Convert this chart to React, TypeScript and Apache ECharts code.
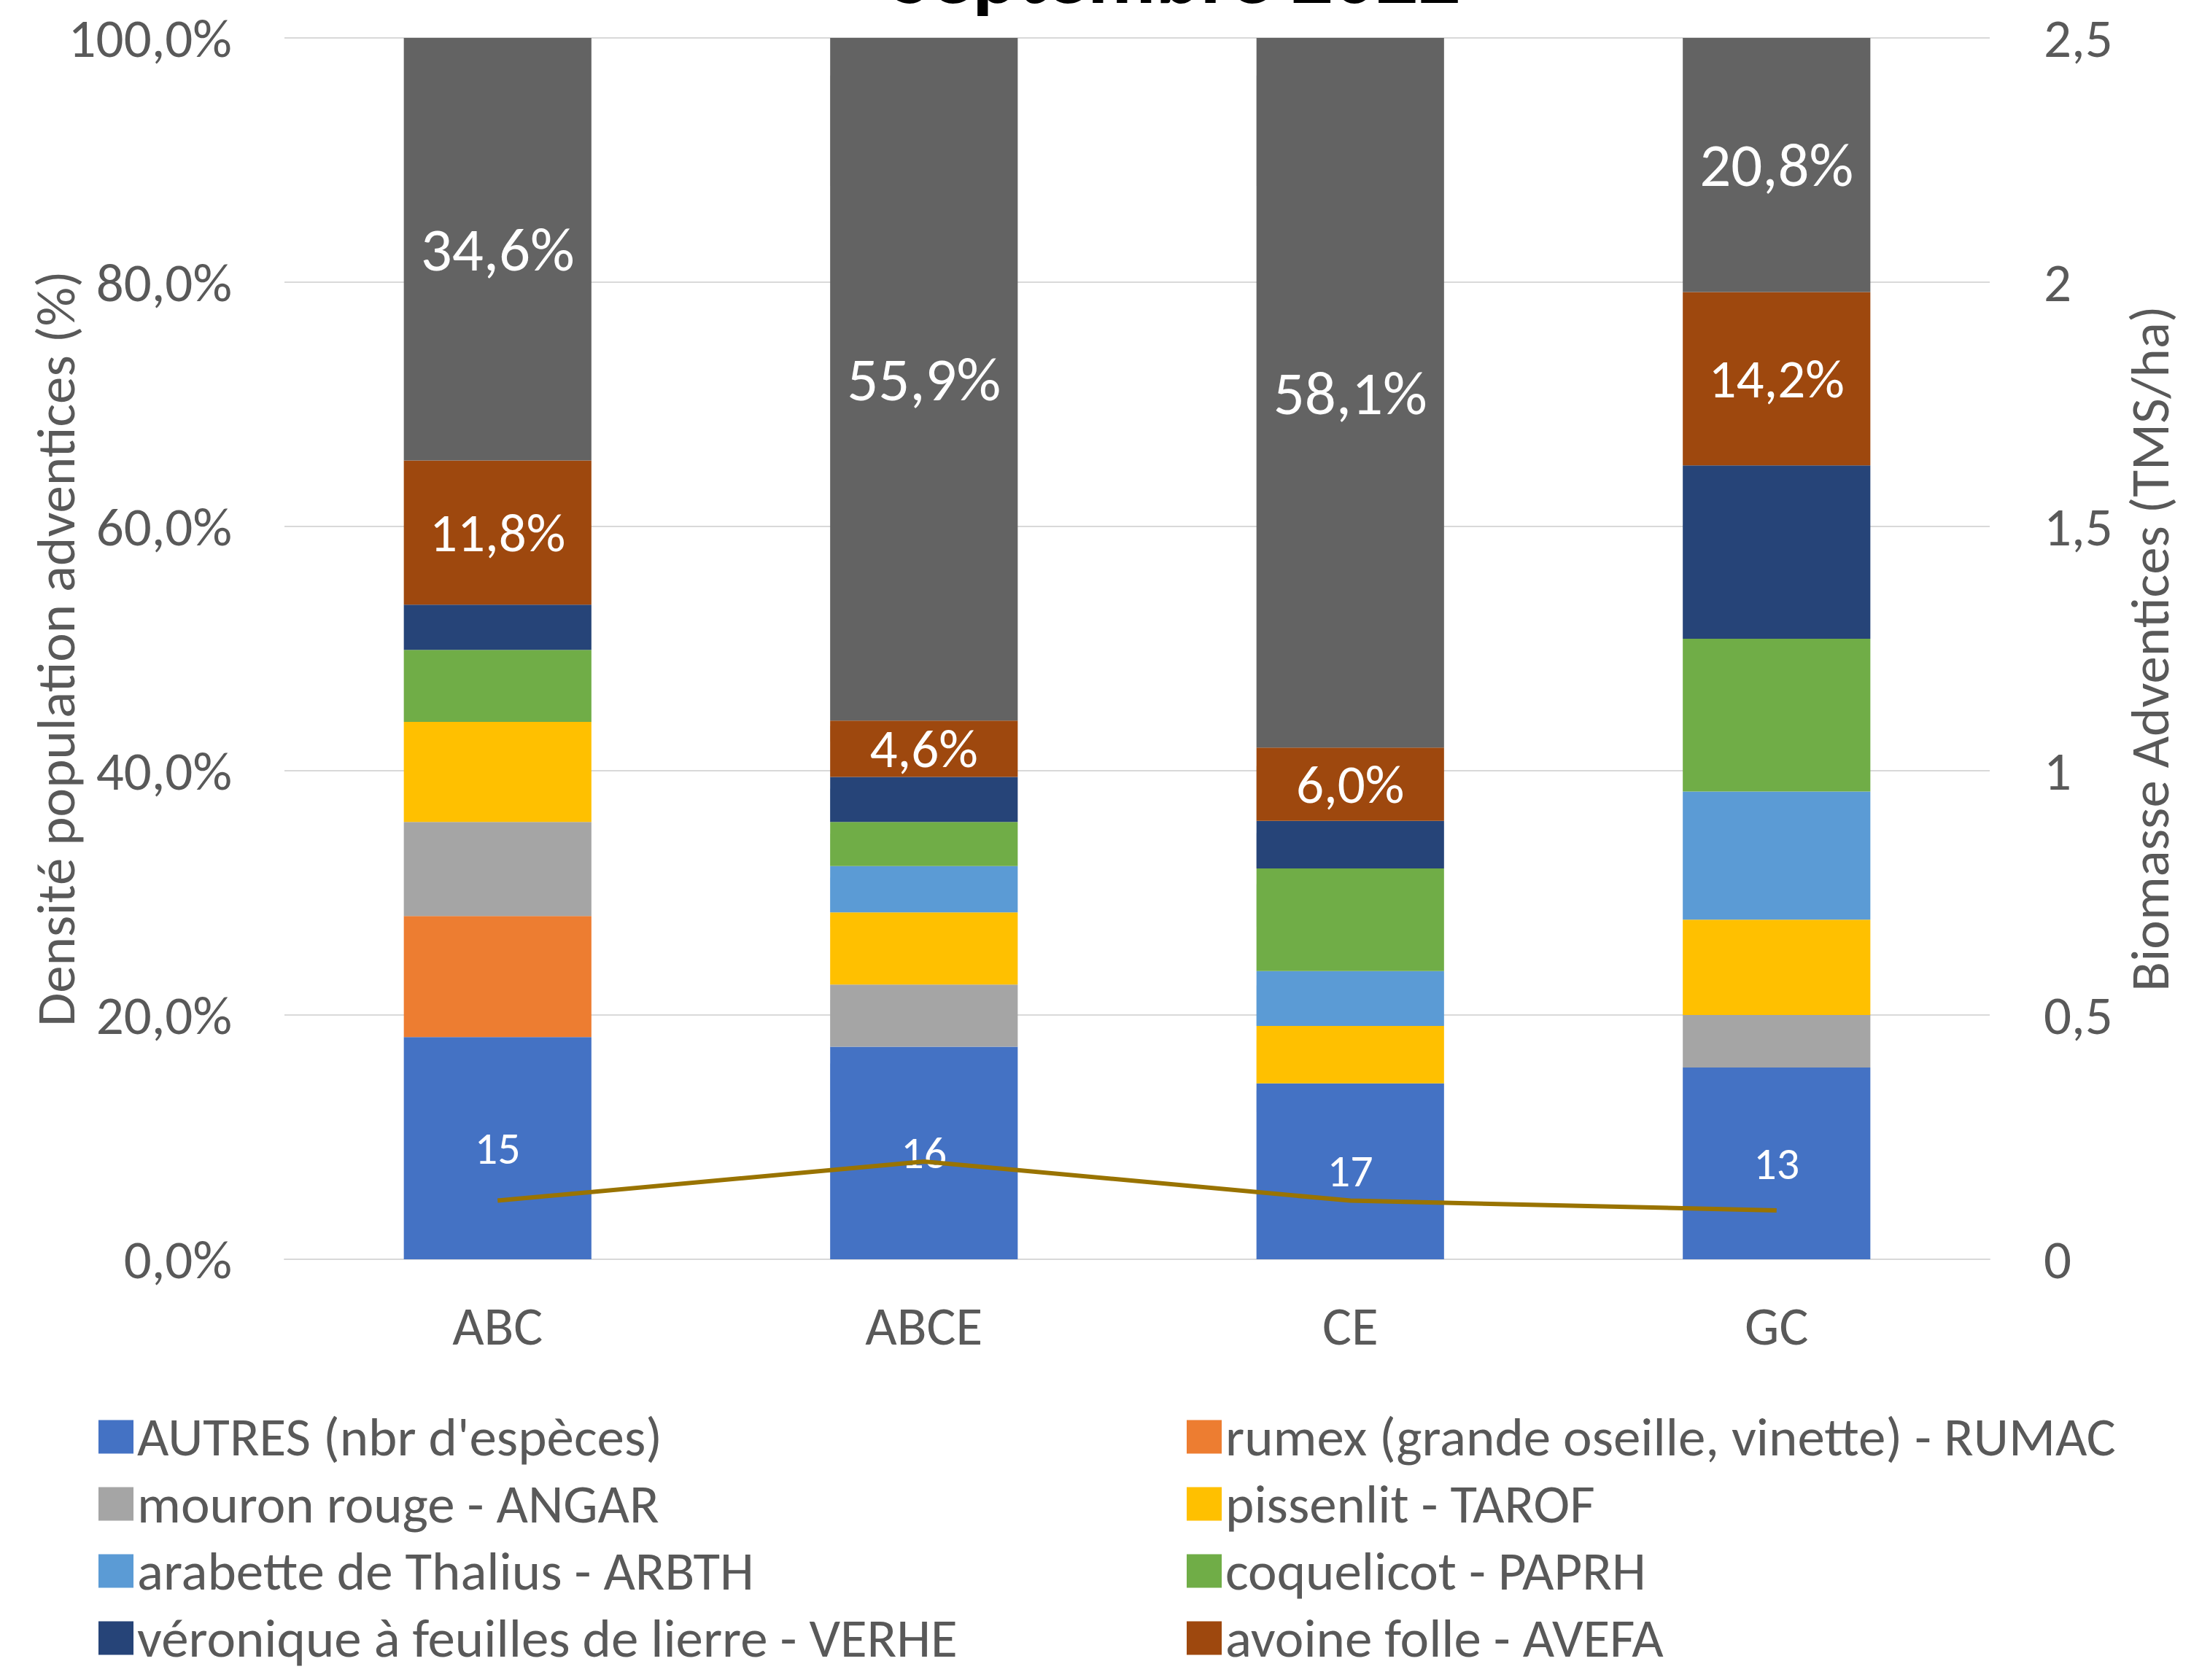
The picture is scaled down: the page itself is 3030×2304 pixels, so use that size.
import React, { useEffect, useRef } from "react";
import * as echarts from "echarts";

const categories = ["ABC", "ABCE", "CE", "GC"];
const autres = [18.2, 17.4, 14.4, 15.7];
const rumex = [9.9, 0, 0, 0];
const mouron = [7.7, 5.1, 0, 4.3];
const pissenlit = [8.2, 5.9, 4.7, 7.8];
const arabette = [0, 3.8, 4.5, 10.5];
const coquelicot = [5.9, 3.6, 8.4, 12.5];
const veronique = [3.7, 3.7, 3.9, 14.2];
const avoine = [11.8, 4.6, 6.0, 14.2];
const reste = [34.6, 55.9, 58.1, 20.8];
const nbEspeces = [15, 16, 17, 13];
const biomasse = [0.12, 0.2, 0.12, 0.1];

const seriesNames = [
  "AUTRES (nbr d'espèces)",
  "rumex (grande oseille, vinette) - RUMAC",
  "mouron rouge - ANGAR",
  "pissenlit - TAROF",
  "arabette de Thalius - ARBTH",
  "coquelicot - PAPRH",
  "véronique à feuilles de lierre - VERHE",
  "avoine folle - AVEFA",
  "autres espèces",
];
const seriesColors = [
  "#4472C4",
  "#ED7D31",
  "#A5A5A5",
  "#FFC000",
  "#5B9BD5",
  "#70AD47",
  "#264478",
  "#9E480E",
  "#636363",
];
const seriesData = [autres, rumex, mouron, pissenlit, arabette, coquelicot, veronique, avoine, reste];

const FONT = "Carlito, Calibri, Lato, sans-serif";
const GREY = "#595959";
const FS = 75;

const pct = (v: number) => v.toFixed(1).replace(".", ",") + "%";

export default function App() {
  const ref = useRef<HTMLDivElement>(null);
  useEffect(() => {
    const chart = echarts.init(ref.current!, undefined, { renderer: "svg" });
    const bars = seriesData.map((d, i) => {
      let label: any = { show: false };
      if (i === 0) {
        label = {
          show: true,
          position: "inside",
          color: "#fff",
          fontSize: 62,
          fontFamily: FONT,
          formatter: (p: any) => String(nbEspeces[p.dataIndex]),
        };
      } else if (i === 7) {
        label = {
          show: true,
          position: "inside",
          color: "#fff",
          fontSize: 75,
          fontFamily: FONT,
          formatter: (p: any) => pct(p.value),
        };
      } else if (i === 8) {
        label = {
          show: true,
          position: "inside",
          color: "#fff",
          fontSize: 85,
          fontFamily: FONT,
          formatter: (p: any) => pct(p.value),
        };
      }
      return {
        name: seriesNames[i],
        type: "bar",
        stack: "total",
        barWidth: "44%",
        data: d,
        itemStyle: { color: seriesColors[i] },
        label,
        z: 2,
      };
    });

    const legendPos = [
      [135, 1973],
      [1627, 1973],
      [135, 2065],
      [1627, 2065],
      [135, 2157],
      [1627, 2157],
      [135, 2249],
      [1627, 2249],
    ];
    const legends = legendPos.map((p, i) => ({
      data: [{ name: seriesNames[i], icon: "rect" }],
      left: p[0],
      top: p[1] - 40,
      padding: 0,
      itemWidth: 48,
      itemHeight: 46,
      selectedMode: false,
      textStyle: { fontSize: FS, color: GREY, fontFamily: FONT, lineHeight: 46 },
    }));

    chart.setOption({
      animation: false,
      backgroundColor: "#fff",
      textStyle: { fontFamily: FONT },
      grid: { left: 390, right: 302, top: 52, bottom: 577, containLabel: false },
      legend: legends,
      graphic: [
        {
          type: "text",
          x: 1612,
          y: 22,
          style: {
            text: "Septembre 2022",
            fill: "#000",
            font: "bold 115px " + FONT,
            textAlign: "center",
            textVerticalAlign: "bottom",
          },
        },
      ],
      xAxis: {
        type: "category",
        data: categories,
        axisTick: { show: false },
        axisLine: { lineStyle: { color: "#D9D9D9", width: 2 } },
        axisLabel: { color: GREY, fontSize: FS, margin: 54, fontFamily: FONT },
      },
      yAxis: [
        {
          type: "value",
          min: 0,
          max: 100,
          interval: 20,
          name: "Densité population adventices (%)",
          nameLocation: "middle",
          nameRotate: 90,
          nameGap: 276,
          nameMoveOverlap: false,
          nameTextStyle: { color: GREY, fontSize: FS, fontFamily: FONT },
          axisLabel: {
            color: GREY,
            fontSize: FS,
            margin: 72,
            fontFamily: FONT,
            formatter: (v: number) => pct(v),
          },
          axisLine: { show: false },
          axisTick: { show: false },
          splitLine: { lineStyle: { color: "#D9D9D9", width: 2 } },
        },
        {
          type: "value",
          min: 0,
          max: 2.5,
          interval: 0.5,
          position: "right",
          name: "Biomasse Adventices (TMS/ha)",
          nameLocation: "middle",
          nameRotate: 90,
          nameGap: 182,
          nameTextStyle: { color: GREY, fontSize: FS, fontFamily: FONT },
          axisLabel: {
            color: GREY,
            fontSize: FS,
            margin: 74,
            fontFamily: FONT,
            formatter: (v: number) => String(v).replace(".", ","),
          },
          axisLine: { show: false },
          axisTick: { show: false },
          splitLine: { show: false },
        },
      ],
      series: [
        ...bars,
        {
          name: "Biomasse",
          type: "line",
          yAxisIndex: 1,
          data: biomasse,
          symbol: "none",
          lineStyle: { color: "#997300", width: 6 },
          itemStyle: { color: "#997300" },
          z: 5,
        },
      ],
    });
    return () => chart.dispose();
  }, []);
  return (
    <div
      ref={ref}
      style={{ position: "absolute", left: 0, top: 0, width: 3030, height: 2304 }}
    />
  );
}
